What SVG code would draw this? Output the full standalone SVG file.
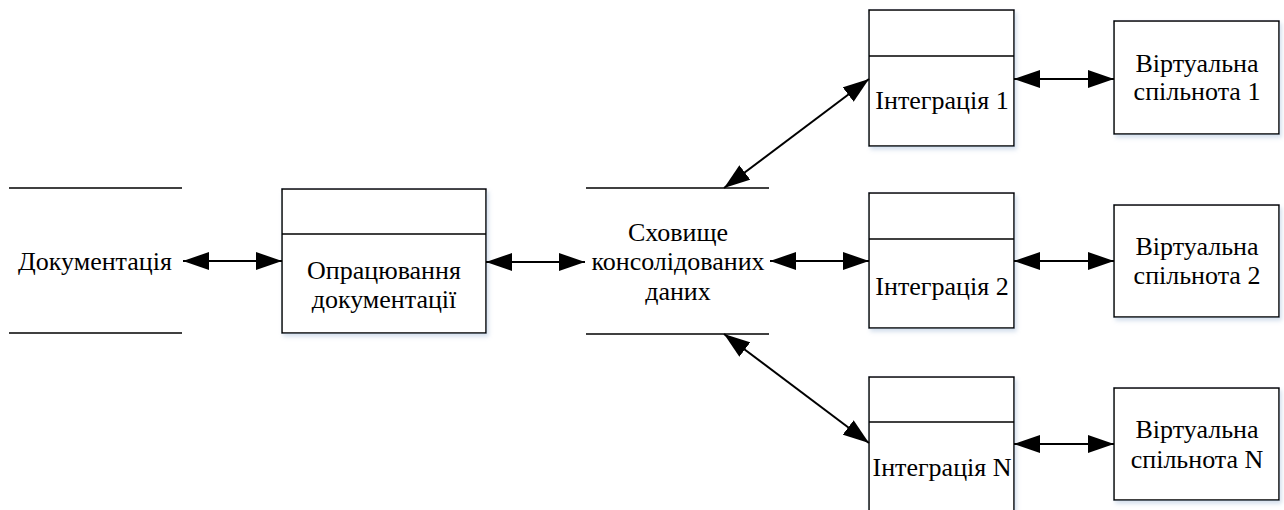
<svg xmlns="http://www.w3.org/2000/svg" width="1284" height="510" viewBox="0 0 1284 510">
  <style>
    .box { fill: #ffffff; stroke: #000000; stroke-width: 1.5; filter: url(#shade); }
    .rule { stroke: #000000; stroke-width: 1.5; fill: none; }
    .link { stroke: #000000; stroke-width: 2; fill: none; marker-start: url(#head); marker-end: url(#head); }
    .lbl { font-family: "Liberation Serif", "Times New Roman", "DejaVu Serif", serif; font-size: 26px; fill: #000000; text-anchor: middle; }
  </style>
  <defs>
    <filter id="shade" x="-10%" y="-10%" width="130%" height="130%">
      <feDropShadow dx="2" dy="3" stdDeviation="2" flood-color="#9fb8d6" flood-opacity="0.45"/>
    </filter>
    <marker id="head" markerUnits="userSpaceOnUse" markerWidth="26" markerHeight="18" refX="26" refY="9" orient="auto-start-reverse">
      <path d="M0,0 L26,9 L0,18 Z" fill="#000000"/>
    </marker>
  </defs>

  <!-- data store: documentation -->
  <g id="documentation">
    <line class="rule" x1="9" y1="188" x2="182" y2="188"/>
    <line class="rule" x1="9" y1="333" x2="182" y2="333"/>
    <text class="lbl" x="95" y="270">Документація</text>
  </g>

  <!-- process: documentation handling -->
  <g id="processing">
    <rect class="box" x="282" y="189" width="204" height="144"/>
    <line class="rule" x1="282" y1="234" x2="486" y2="234"/>
    <text class="lbl" x="384" y="279">Опрацювання</text>
    <text class="lbl" x="384" y="308">документації</text>
  </g>

  <!-- data store: consolidated data -->
  <g id="storage">
    <line class="rule" x1="586" y1="188" x2="769" y2="188"/>
    <line class="rule" x1="586" y1="334" x2="769" y2="334"/>
    <text class="lbl" x="678" y="241">Сховище</text>
    <text class="lbl" x="678" y="270">консолідованих</text>
    <text class="lbl" x="678" y="300">даних</text>
  </g>

  <!-- integration processes -->
  <g id="integration-1">
    <rect class="box" x="869" y="10" width="145" height="136"/>
    <line class="rule" x1="869" y1="56" x2="1014" y2="56"/>
    <text class="lbl" x="942" y="109">Інтеграція 1</text>
  </g>
  <g id="integration-2">
    <rect class="box" x="869" y="193" width="145" height="135"/>
    <line class="rule" x1="869" y1="239" x2="1014" y2="239"/>
    <text class="lbl" x="942" y="295">Інтеграція 2</text>
  </g>
  <g id="integration-n">
    <rect class="box" x="869" y="377" width="145" height="142"/>
    <line class="rule" x1="869" y1="422" x2="1014" y2="422"/>
    <text class="lbl" x="942" y="476">Інтеграція N</text>
  </g>

  <!-- virtual communities -->
  <g id="community-1">
    <rect class="box" x="1114" y="21" width="165" height="113"/>
    <text class="lbl" x="1197" y="72">Віртуальна</text>
    <text class="lbl" x="1197" y="100">спільнота 1</text>
  </g>
  <g id="community-2">
    <rect class="box" x="1114" y="205" width="165" height="112"/>
    <text class="lbl" x="1197" y="255">Віртуальна</text>
    <text class="lbl" x="1197" y="284">спільнота 2</text>
  </g>
  <g id="community-n">
    <rect class="box" x="1114" y="388" width="165" height="112"/>
    <text class="lbl" x="1197" y="438">Віртуальна</text>
    <text class="lbl" x="1197" y="468">спільнота N</text>
  </g>

  <!-- bidirectional data flows -->
  <g id="connectors">
    <line class="link" x1="183" y1="261" x2="282" y2="261"/>
    <line class="link" x1="486" y1="262" x2="585" y2="262"/>
    <line class="link" x1="770" y1="261" x2="869" y2="261"/>
    <line class="link" x1="724" y1="188" x2="869" y2="79"/>
    <line class="link" x1="724" y1="334" x2="869" y2="443"/>
    <line class="link" x1="1014" y1="79" x2="1114" y2="79"/>
    <line class="link" x1="1014" y1="261" x2="1114" y2="261"/>
    <line class="link" x1="1014" y1="444" x2="1114" y2="444"/>
  </g>
</svg>
